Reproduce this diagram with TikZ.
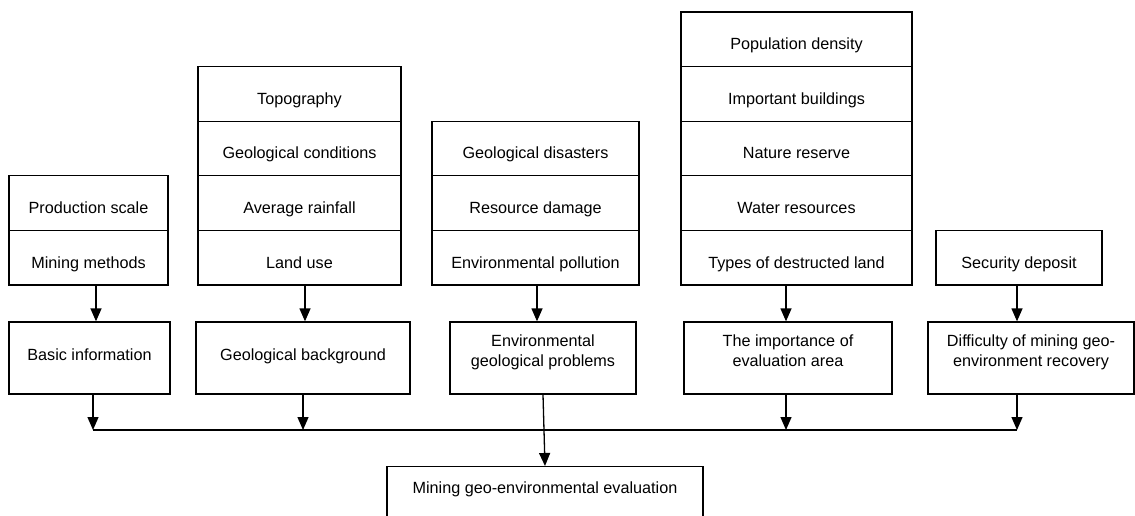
\documentclass[tikz,border=0pt]{standalone}
\usepackage{fontspec}
\setmainfont{Liberation Sans}
\usetikzlibrary{arrows.meta,positioning,calc}

\begin{document}
\begin{tikzpicture}[x=1pt,y=-1pt,
    cell/.style={rectangle,draw,minimum height=54.6pt,inner sep=0pt,text height=21pt,text depth=0pt,font=\fontsize{16.2}{19.5}\selectfont,line width=1.3pt},
    blk/.style={rectangle,draw,minimum height=72pt,inner sep=2pt,align=center,text height=12pt,text depth=8pt,font=\fontsize{16.2}{19.5}\selectfont,line width=1.3pt},
    two/.style={text height=18pt,text depth=2pt},
    arr/.style={-{Triangle[length=13pt,width=11pt]},line width=1.3pt},
]
\useasboundingbox (0,0) rectangle (1135,516);

% Indicator stacks
\node[cell,minimum width=159pt] (prod) at (88.5,203.1) {Production scale};
\node[cell,minimum width=159pt] (mine) at (88.5,257.7) {Mining methods};

\node[cell,minimum width=203pt] (topo) at (299.5,93.9) {Topography};
\node[cell,minimum width=203pt] (geoc) at (299.5,148.5) {Geological conditions};
\node[cell,minimum width=203pt] (rain) at (299.5,203.1) {Average rainfall};
\node[cell,minimum width=203pt] (land) at (299.5,257.7) {Land use};

\node[cell,minimum width=207pt] (dis) at (535.5,148.5) {Geological disasters};
\node[cell,minimum width=207pt] (dmg) at (535.5,203.1) {Resource damage};
\node[cell,minimum width=207pt] (pol) at (535.5,257.7) {Environmental pollution};

\node[cell,minimum width=231pt] (popd) at (796.5,39.3) {Population density};
\node[cell,minimum width=231pt] (bldg) at (796.5,93.9) {Important buildings};
\node[cell,minimum width=231pt] (resv) at (796.5,148.5) {Nature reserve};
\node[cell,minimum width=231pt] (wat) at (796.5,203.1) {Water resources};
\node[cell,minimum width=231pt] (typ) at (796.5,257.7) {Types of destructed land};

\node[cell,minimum width=166pt] (dep) at (1019,257.7) {Security deposit};

% Factor boxes
\node[blk,minimum width=161pt] (bas) at (89.5,358) {Basic information};
\node[blk,minimum width=214pt] (geob) at (303,358) {Geological background};
\node[blk,two,minimum width=186pt] (env) at (543,358) {Environmental\\geological problems};
\node[blk,two,minimum width=208pt] (imp) at (788,358) {The importance of\\evaluation area};
\node[blk,two,minimum width=206pt] (diff) at (1031,358) {Difficulty of mining geo-\\environment recovery};

% Evaluation
\node[blk,anchor=north,minimum height=0pt,inner ysep=15pt,text depth=40pt,minimum width=316pt] (eval) at (545,466) {Mining geo-environmental evaluation};

% Junctions on the collector line
\coordinate (j1) at (93,430);
\coordinate (j2) at (303,430);
\coordinate (j4) at (786,430);
\coordinate (j5) at (1017,430);

% Arrows
\draw[arr] ([xshift=7.5pt]mine.south) -- ([xshift=7.5pt]mine.south |- bas.north);
\draw[arr] ([xshift=5.5pt]land.south) -- ([xshift=5.5pt]land.south |- geob.north);
\draw[arr] ([xshift=1.5pt]pol.south) -- ([xshift=1.5pt]pol.south |- env.north);
\draw[arr] ([xshift=-10.5pt]typ.south) -- ([xshift=-10.5pt]typ.south |- imp.north);
\draw[arr] ([xshift=-2pt]dep.south) -- ([xshift=-2pt]dep.south |- diff.north);
\draw[arr] (bas.south -| j1) -- (j1);
\draw[arr] (geob.south -| j2) -- (j2);
\draw[arr] (imp.south -| j4) -- (j4);
\draw[arr] (diff.south -| j5) -- (j5);
\draw[line width=1.3pt] (j1) -- (j5);
\draw[arr] (env.south) -- (eval.north);
\end{tikzpicture}
\end{document}
